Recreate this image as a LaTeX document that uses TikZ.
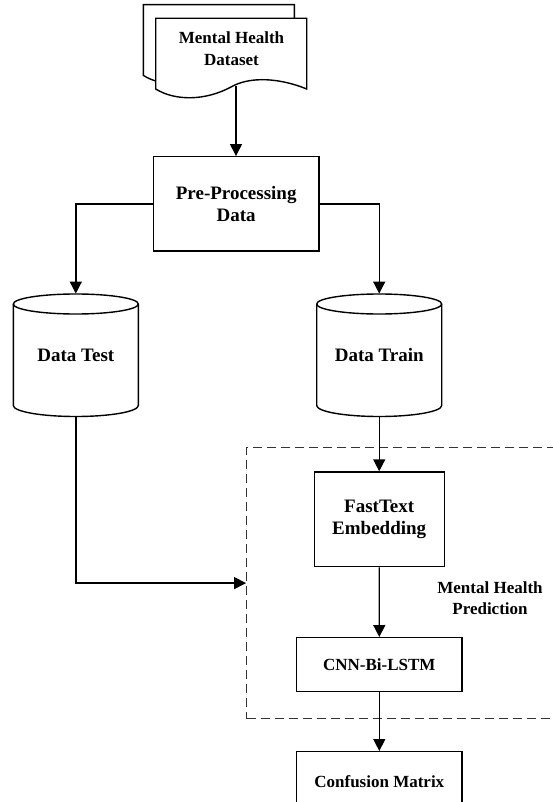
\documentclass[tikz,border=0pt]{standalone}
\usepackage{fontspec}
\setmainfont{Liberation Serif}
\usetikzlibrary{arrows.meta}
\tikzset{
  ln/.style={line width=1.4pt, black},
  arr/.style={ln, -{Triangle[length=12pt,width=12pt]}},
  txt/.style={font=\fontsize{17}{22}\selectfont\bfseries, align=center},
  bigtxt/.style={font=\fontsize{19}{22.4}\selectfont\bfseries, align=center},
  boxnode/.style={draw, ln, fill=white, inner sep=0pt},
  cylnode/.style={bigtxt, inner sep=0pt, minimum width=125pt, minimum height=123pt},
  dashbox/.style={draw=black!80, line width=1.3pt, dash pattern=on 9pt off 5pt}
}
\begin{document}
\begin{tikzpicture}[x=1pt, y=-1pt]
\useasboundingbox (0,0) rectangle (553,802);
\clip (0,0) rectangle (553,802);
\fill[white] (0,0) rectangle (553,802);

% document shape (two sheets)
\draw[ln, fill=white] (143.3,75.4) -- (143.3,4.7) -- (294.3,4.7) -- (294.3,75.4)
  .. controls (267.6,64.4) and (237.6,62.4) .. (218.6,73.4)
  .. controls (192.6,87.4) and (162.6,87.4) .. (143.3,75.4) -- cycle;
\draw[ln, fill=white] (155.7,89) -- (155.7,18.3) -- (306.7,18.3) -- (306.7,89)
  .. controls (280,78) and (250,76) .. (231,87)
  .. controls (205,101) and (175,101) .. (155.7,89) -- cycle;
\node[txt] (doc) at (231.5,49) {Mental Health\\Dataset};
\coordinate (docout) at (236,86.5);

% pre-processing
\node[boxnode, bigtxt, minimum width=165.7pt, minimum height=94.3pt] (pre) at (236.2,203.9) {Pre-Processing\\Data};

% cylinders
\foreach \cx in {75.8, 379.2}{
  \draw[ln, fill=white] (\cx-62.5,304) -- (\cx-62.5,405.5)
    arc[start angle=180, end angle=360, x radius=62.5pt, y radius=11pt]
    -- (\cx+62.5,304)
    arc[start angle=0, end angle=180, x radius=62.5pt, y radius=10pt];
  \draw[ln] (\cx-62.5,304) arc[start angle=180, end angle=360, x radius=62.5pt, y radius=10pt];
}
\node[cylnode] (test) at (75.8,355.3) {Data Test};
\node[cylnode] (train) at (379.2,355.3) {Data Train};

% dashed prediction region
\node[dashbox, minimum width=313.3pt, minimum height=270.8pt, inner sep=0pt] (pred) at (403.35,583.1) {};
\node[txt, font=\fontsize{17}{20.6}\selectfont\bfseries] (predlbl) at (490,598) {Mental Health\\Prediction};

% model boxes
\node[boxnode, bigtxt, minimum width=130pt, minimum height=94.7pt] (ft) at (379.2,519.35) {FastText\\Embedding};
\node[boxnode, txt, minimum width=165.3pt, minimum height=54pt] (cnn) at (379.3,664.7) {CNN-Bi-LSTM};
\node[boxnode, txt, minimum width=165.3pt, minimum height=60pt] (cm) at (379.3,781.7) {Confusion Matrix};

% connectors
\draw[arr] (docout) -- (docout |- pre.north);
\draw[arr] (pre.west) -| (test.north);
\draw[arr] (pre.east) -| (train.north);
\draw[arr] (test.south) |- (pred.west);
\draw[arr] (train.south) -- (ft.north);
\draw[arr] (ft.south) -- (cnn.north);
\draw[arr] (cnn.south) -- (cm.north);
\end{tikzpicture}
\end{document}
